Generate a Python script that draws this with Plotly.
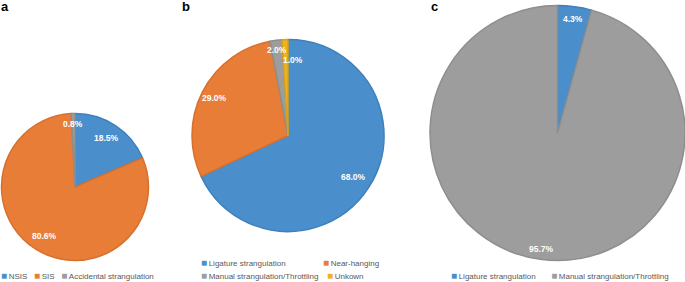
import math
import plotly.graph_objects as go

# ---------------- data ----------------
a_labels = ["NSIS", "SIS", "Accidental strangulation"]
a_values = [18.5, 80.6, 0.8]

b_labels = ["Ligature strangulation", "Near-hanging",
            "Manual strangulation/Throttling", "Unkown"]
b_values = [68.0, 29.0, 2.0, 1.0]

c_labels = ["Ligature strangulation", "Manual strangulation/Throttling"]
c_values = [4.3, 95.7]

panel_letters = ["a", "b", "c"]

# ---------------- styles ----------------
W, H = 685, 282
BLUE, ORANGE, GRAY, YELLOW = "#4A8FCB", "#E87D38", "#9D9D9D", "#EDB321"
EDGE = {BLUE: "#3E80BC", ORANGE: "#D8702D", GRAY: "#8E8E8E", YELLOW: "#D9A21B"}
a_colors = [BLUE, ORANGE, GRAY]
b_colors = [BLUE, ORANGE, GRAY, YELLOW]
c_colors = [BLUE, GRAY]

# geometry of each pie in pixels (centre x, centre y, radius)
a_geom = (75, 187, 73.5)
b_geom = (288, 135.5, 96)
c_geom = (557.5, 133, 127.5)

# label placement (fraction of radius, angular nudge in degrees)
a_lab_r = [0.79, 0.79, 0.86]
a_lab_nudge = [0, 0, 0]
b_lab_r = [0.81, 0.86, 0.9, 0.79]
b_lab_nudge = [0, 0, 0, 5.5]
c_lab_r = [0.9, 0.92]
c_lab_nudge = [0, 0]

FONT = "Liberation Sans"
LEG_COLOR = "#595959"
LEG_SIZE = 8


def dom(geom):
    cx, cy, r = geom
    x0, x1 = max(0, (cx - r) / W), min(1, (cx + r) / W)
    y0, y1 = max(0, 1 - (cy + r) / H), min(1, 1 - (cy - r) / H)
    return dict(x=[x0, x1], y=[y0, y1])


def pie(labels, values, colors, geom):
    return go.Pie(
        labels=labels, values=values, sort=False, direction="clockwise",
        rotation=0, domain=dom(geom), showlegend=False,
        marker=dict(colors=colors,
                    line=dict(color=[EDGE[c] for c in colors], width=1.5)),
        textinfo="none",
        hoverinfo="label+value",
    )


fig = go.Figure()
fig.add_trace(pie(a_labels, a_values, a_colors, a_geom))
fig.add_trace(pie(b_labels, b_values, b_colors, b_geom))
fig.add_trace(pie(c_labels, c_values, c_colors, c_geom))

annotations = []


def px_ann(text, x, y, size=LEG_SIZE, color=LEG_COLOR, bold=False, xanchor="left"):
    annotations.append(dict(
        text=text, x=x / W, y=1 - y / H, xref="paper", yref="paper",
        xanchor=xanchor, yanchor="middle", showarrow=False,
        font=dict(family=FONT, size=size, color=color,
                  weight="bold" if bold else "normal")))


def slice_labels(values, geom, rfac, nudge):
    cx, cy, r = geom
    total = sum(values)
    cum = 0.0
    for v, k, dn in zip(values, rfac, nudge):
        mid = (cum + v / 2) / total * 360 + dn
        cum += v
        th = math.radians(mid)
        x = cx + k * r * math.sin(th)
        y = cy - k * r * math.cos(th)
        px_ann(f"{v:.1f}%", x, y, size=8.5, color="white", bold=True,
               xanchor="center")


slice_labels(a_values, a_geom, a_lab_r, a_lab_nudge)
slice_labels(b_values, b_geom, b_lab_r, b_lab_nudge)
slice_labels(c_values, c_geom, c_lab_r, c_lab_nudge)


def entry(label, color):
    return (f"<span style='color:{color};font-size:10px'>■</span>"
            f"\u2009{label}")


# panel letters
for letter, x in zip(panel_letters, [-1, 180, 429]):
    px_ann(letter, x, 7, size=13, color="black", bold=True)

# legends
sep = "\u00a0" * 3
px_ann(sep.join(entry(l, c) for l, c in zip(a_labels, a_colors)), -1, 275.5)
px_ann(entry(b_labels[0], b_colors[0]), 199, 262)
px_ann(entry(b_labels[1], b_colors[1]), 321, 262)
px_ann(entry(b_labels[2], b_colors[2]), 199, 275)
px_ann(entry(b_labels[3], b_colors[3]), 325, 275)
px_ann(("\u00a0" * 7).join(entry(l, c) for l, c in zip(c_labels, c_colors)), 449, 275.5)

fig.update_layout(
    width=W, height=H, margin=dict(l=0, r=0, t=0, b=0),
    paper_bgcolor="white", plot_bgcolor="white",
    annotations=annotations,
)

fig.write_html("out.html",
               config={"displayModeBar": False},
               post_script="document.body.style.margin='0';"
                           "document.body.style.overflow='hidden';")
